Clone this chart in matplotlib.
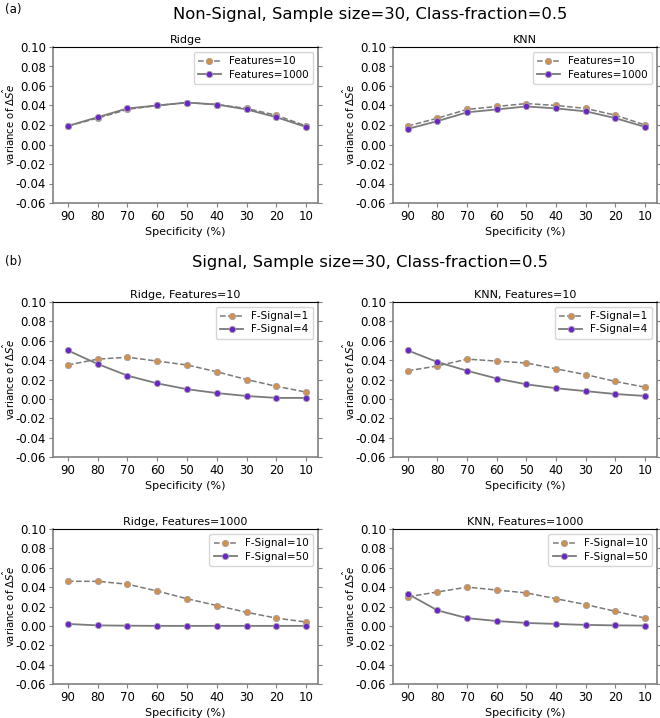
import matplotlib

matplotlib.use("Agg")

import matplotlib.pyplot as plt
import numpy as np

specificity = ["90", "80", "70", "60", "50", "40", "30", "20", "10"]

# (a) non-signal
ridge_ns_f10 = [0.019, 0.027, 0.036, 0.040, 0.043, 0.041, 0.037, 0.030, 0.019]
ridge_ns_f1000 = [0.019, 0.028, 0.037, 0.040, 0.043, 0.041, 0.036, 0.028, 0.018]
knn_ns_f10 = [0.019, 0.027, 0.036, 0.039, 0.042, 0.040, 0.037, 0.030, 0.020]
knn_ns_f1000 = [0.016, 0.024, 0.033, 0.036, 0.039, 0.037, 0.034, 0.027, 0.018]

# (b) signal, features=10
ridge_f10_fs1 = [0.035, 0.041, 0.043, 0.039, 0.035, 0.028, 0.020, 0.013, 0.007]
ridge_f10_fs4 = [0.050, 0.036, 0.024, 0.016, 0.010, 0.006, 0.003, 0.001, 0.001]
knn_f10_fs1 = [0.029, 0.034, 0.041, 0.039, 0.037, 0.031, 0.025, 0.018, 0.012]
knn_f10_fs4 = [0.050, 0.038, 0.029, 0.021, 0.015, 0.011, 0.008, 0.005, 0.003]

# (b) signal, features=1000
ridge_f1000_fs10 = [0.046, 0.046, 0.043, 0.036, 0.028, 0.021, 0.014, 0.008, 0.004]
ridge_f1000_fs50 = [0.002, 0.0005, 0.0002, 0.0, 0.0, 0.0, 0.0, 0.0, 0.0]
knn_f1000_fs10 = [0.030, 0.035, 0.040, 0.037, 0.034, 0.028, 0.022, 0.015, 0.008]
knn_f1000_fs50 = [0.033, 0.016, 0.008, 0.005, 0.003, 0.002, 0.001, 0.0005, 0.0003]

ORANGE = "#d48f4c"
PURPLE = "#6a24c8"
LINE = "#7a7a7a"
SPINE = "#808080"

W, H = 660, 718
fig = plt.figure(figsize=(W / 100, H / 100), dpi=100)


def add_panel(left, top, right, bottom):
    return fig.add_axes([left / W, 1 - bottom / H, (right - left) / W, (bottom - top) / H])


def draw_panel(ax, title, first, second, labels):
    x = np.arange(len(specificity))
    ax.plot(x, first, linestyle="--", color=LINE, linewidth=1.1, marker="o",
            markersize=4.5, markerfacecolor=ORANGE, markeredgecolor="#a0a0a0",
            markeredgewidth=0.6, label=labels[0])
    ax.plot(x, second, linestyle="-", color=LINE, linewidth=1.3, marker="o",
            markersize=4.5, markerfacecolor=PURPLE, markeredgecolor="#a0a0a0",
            markeredgewidth=0.6, label=labels[1])
    ax.set_xticks(x)
    ax.set_xticklabels(specificity)
    ax.set_xlim(-0.5, 8.4)
    ax.set_ylim(-0.06, 0.10)
    ax.set_yticks(np.arange(-0.06, 0.1001, 0.02))
    ax.yaxis.set_major_formatter(matplotlib.ticker.FormatStrFormatter("%.2f"))
    ax.tick_params(labelsize=8.5, color=SPINE, length=3, pad=2)
    ax.tick_params(axis="y", right=True)
    for side in ["left", "bottom", "right"]:
        ax.spines[side].set_color(SPINE)
        ax.spines[side].set_linewidth(1.2)
    ax.spines["top"].set_color("black")
    ax.set_title(title, fontsize=8, pad=3)
    ax.set_xlabel("Specificity (%)", fontsize=8, labelpad=3)
    ax.set_ylabel(r"variance of $\Delta\hat{Se}$", fontsize=7.3)
    ax.yaxis.set_label_coords(-0.135, 0.5)
    ax.legend(loc="upper right", fontsize=7.5, handlelength=2.2, borderpad=0.4,
              labelspacing=0.3, framealpha=0.8)


ax = add_panel(53, 47, 318, 203)
draw_panel(ax, "Ridge", ridge_ns_f10, ridge_ns_f1000, ["Features=10", "Features=1000"])
ax = add_panel(393, 47, 657, 203)
draw_panel(ax, "KNN", knn_ns_f10, knn_ns_f1000, ["Features=10", "Features=1000"])

ax = add_panel(53, 302, 318, 457)
draw_panel(ax, "Ridge, Features=10", ridge_f10_fs1, ridge_f10_fs4, ["F-Signal=1", "F-Signal=4"])
ax = add_panel(393, 302, 657, 457)
draw_panel(ax, "KNN, Features=10", knn_f10_fs1, knn_f10_fs4, ["F-Signal=1", "F-Signal=4"])

ax = add_panel(53, 529, 318, 684)
draw_panel(ax, "Ridge, Features=1000", ridge_f1000_fs10, ridge_f1000_fs50, ["F-Signal=10", "F-Signal=50"])
ax = add_panel(393, 529, 657, 684)
draw_panel(ax, "KNN, Features=1000", knn_f1000_fs10, knn_f1000_fs50, ["F-Signal=10", "F-Signal=50"])

fig.text(5 / W, 1 - 10 / H, "(a)", fontsize=8.5, va="center", ha="left")
fig.text(370 / W, 1 - 15 / H, "Non-Signal, Sample size=30, Class-fraction=0.5",
         fontsize=11.8, va="center", ha="center")
fig.text(5 / W, 1 - 261 / H, "(b)", fontsize=8.5, va="center", ha="left")
fig.text(370 / W, 1 - 263 / H, "Signal, Sample size=30, Class-fraction=0.5",
         fontsize=11.8, va="center", ha="center")

fig.savefig("out.png", dpi=100)
